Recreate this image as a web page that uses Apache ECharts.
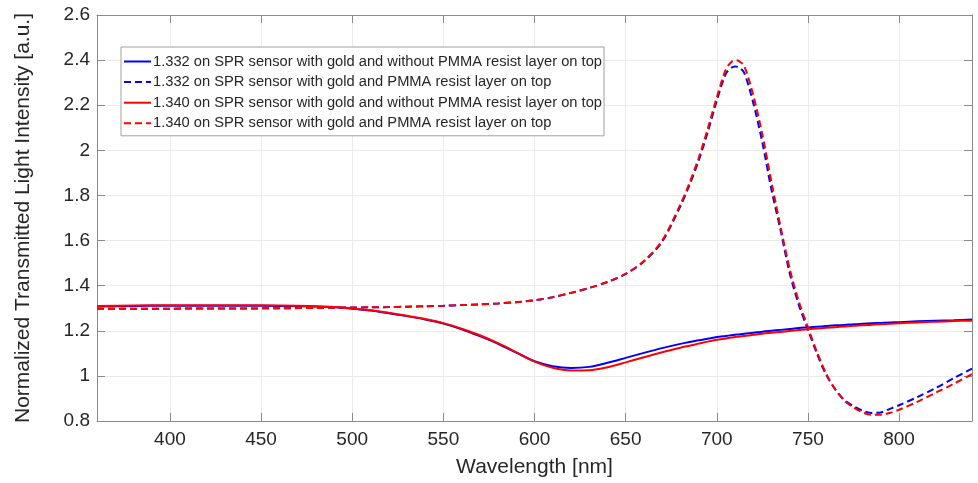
<!DOCTYPE html>
<html>
<head>
<meta charset="utf-8">
<script src="https://cdn.jsdelivr.net/npm/echarts@6/dist/echarts.min.js"></script>
<style>html,body{margin:0;padding:0;background:#fff}#c{width:978px;height:483px}</style>
</head>
<body>
<div id="c"></div>
<script>
const wavelengths = [360,380,400,420,440,460,480,490,500,510,520,530,540,550,560,570,580,590,600,610,620,630,640,650,660,670,680,685,690,695,700,705,708,710,712,715,720,725,730,735,740,745,750,755,760,765,770,775,780,785,790,795,800,810,820,830,840];

const blueSolid = [1.308,1.310,1.311,1.311,1.311,1.310,1.308,1.304,1.298,1.290,1.278,1.265,1.250,1.232,1.207,1.176,1.142,1.103,1.065,1.043,1.035,1.040,1.058,1.080,1.102,1.123,1.142,1.150,1.158,1.165,1.172,1.177,1.180,1.182,1.184,1.187,1.191,1.196,1.200,1.204,1.208,1.212,1.215,1.218,1.221,1.224,1.226,1.229,1.231,1.233,1.235,1.237,1.238,1.242,1.245,1.247,1.250];

const blueDashed = [1.298,1.298,1.298,1.299,1.299,1.300,1.301,1.302,1.303,1.304,1.305,1.307,1.309,1.311,1.314,1.317,1.321,1.327,1.335,1.349,1.368,1.390,1.416,1.452,1.507,1.595,1.752,1.846,1.953,2.080,2.220,2.340,2.366,2.372,2.368,2.345,2.210,2.035,1.825,1.645,1.455,1.315,1.205,1.097,1.005,0.940,0.893,0.866,0.846,0.836,0.838,0.854,0.870,0.906,0.946,0.990,1.032];

const redSolid = [1.310,1.312,1.313,1.313,1.313,1.312,1.309,1.305,1.299,1.291,1.280,1.267,1.252,1.234,1.209,1.180,1.145,1.105,1.063,1.036,1.024,1.025,1.038,1.060,1.083,1.105,1.125,1.134,1.143,1.152,1.160,1.166,1.170,1.172,1.174,1.177,1.182,1.187,1.191,1.195,1.199,1.203,1.207,1.210,1.213,1.216,1.219,1.222,1.224,1.227,1.229,1.231,1.233,1.237,1.240,1.243,1.245];

const redDashed = [1.298,1.298,1.298,1.299,1.299,1.300,1.301,1.302,1.303,1.304,1.305,1.307,1.309,1.311,1.314,1.317,1.321,1.327,1.335,1.349,1.368,1.390,1.416,1.452,1.509,1.600,1.760,1.855,1.965,2.095,2.235,2.360,2.392,2.400,2.397,2.375,2.245,2.070,1.860,1.660,1.475,1.330,1.215,1.105,1.010,0.940,0.890,0.860,0.838,0.828,0.828,0.836,0.850,0.885,0.925,0.965,1.008];

const seriesNames = [
  '1.332 on SPR sensor with gold and without PMMA resist layer on top',
  '1.332 on SPR sensor with gold and PMMA resist layer on top',
  '1.340 on SPR sensor with gold and without PMMA resist layer on top',
  '1.340 on SPR sensor with gold and PMMA resist layer on top'
];
const xTicks = [400,450,500,550,600,650,700,750,800];

const pair = arr => wavelengths.map((w,i)=>[w,arr[i]]);
const FONT = 'Liberation Sans, Arial, sans-serif';
const axisGray = '#8a8a8a';
const gridGray = '#ebebeb';

function mkSeries(name, arr, color, dashed){
  return {
    name, type:'line', data: pair(arr), showSymbol:false, symbol:'none',
    smooth:0.3, animation:false,
    lineStyle:{color, width:2, type: dashed ? [7,4] : 'solid'},
    itemStyle:{color}
  };
}

const chart = echarts.init(document.getElementById('c'), null, {renderer:'canvas'});
chart.setOption({
  backgroundColor:'#fff',
  animation:false,
  grid:{left:97, right:6, top:15, bottom:60, containLabel:false},
  legend:{
    orient:'vertical', left:121, top:47,
    itemWidth:27, itemHeight:14, itemGap:5.6,
    padding:[7,2,5,2],
    itemStyle:{opacity:0, color:'transparent', borderWidth:0},
    backgroundColor:'#fff', borderColor:'#a0a0a0', borderWidth:1, borderRadius:0,
    textStyle:{fontFamily:FONT, fontSize:14.7, color:'#262626', padding:[0,0,0,-3]},
    data: seriesNames
  },
  xAxis:[{
    type:'value', min:360, max:840,
    name:'Wavelength [nm]', nameLocation:'middle', nameGap:36,
    nameTextStyle:{fontFamily:FONT, fontSize:21, color:'#262626'},
    axisLine:{show:true, onZero:false, lineStyle:{color:axisGray, width:1}},
    axisTick:{show:true, inside:true, length:8, customValues:xTicks, lineStyle:{color:axisGray}},
    axisLabel:{customValues:xTicks, fontFamily:FONT, fontSize:19, color:'#262626', margin:9},
    splitLine:{show:true, lineStyle:{color:gridGray, width:1}}
  },{
    type:'value', min:360, max:840, position:'top',
    axisLine:{show:true, onZero:false, lineStyle:{color:axisGray, width:1}},
    axisTick:{show:true, inside:true, length:8, customValues:xTicks, lineStyle:{color:axisGray}},
    axisLabel:{show:false}, splitLine:{show:false}
  }],
  yAxis:[{
    type:'value', min:0.8, max:2.6, interval:0.2,
    name:'Normalized Transmitted Light Intensity [a.u.]', nameLocation:'middle', nameGap:63,
    nameTextStyle:{fontFamily:FONT, fontSize:21, color:'#262626'},
    axisLine:{show:true, onZero:false, lineStyle:{color:axisGray, width:1}},
    axisTick:{show:true, inside:true, length:8, lineStyle:{color:axisGray}},
    axisLabel:{fontFamily:FONT, fontSize:19, color:'#262626', margin:7,
      formatter: v => String(parseFloat(v.toFixed(1)))},
    splitLine:{show:true, lineStyle:{color:gridGray, width:1}}
  },{
    type:'value', min:0.8, max:2.6, interval:0.2, position:'right',
    axisLine:{show:true, onZero:false, lineStyle:{color:axisGray, width:1}},
    axisTick:{show:true, inside:true, length:8, lineStyle:{color:axisGray}},
    axisLabel:{show:false}, splitLine:{show:false}
  }],
  series:[
    mkSeries(seriesNames[0], blueSolid, '#0000ff', false),
    mkSeries(seriesNames[1], blueDashed, '#0000ff', true),
    mkSeries(seriesNames[2], redSolid, '#ff0000', false),
    mkSeries(seriesNames[3], redDashed, '#ff0000', true)
  ]
});
</script>
</body>
</html>
